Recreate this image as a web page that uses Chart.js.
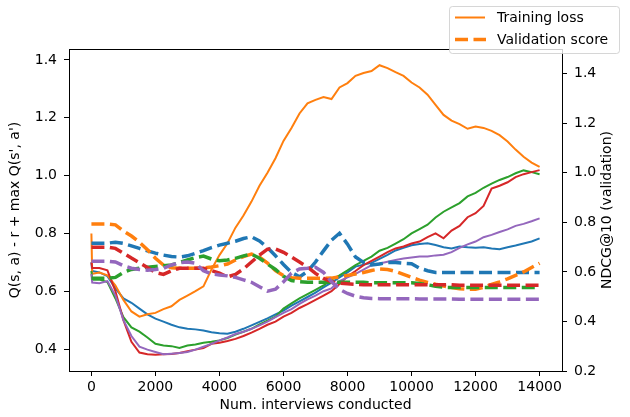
<!DOCTYPE html>
<html>
<head>
<meta charset="utf-8">
<script src="https://cdn.jsdelivr.net/npm/chart.js@4.4.1/dist/chart.umd.min.js"></script>
<style>
  html, body { margin: 0; padding: 0; background: #fff; }
  #wrap { width: 630px; height: 417px; }
</style>
</head>
<body>
<div id="wrap"><canvas id="lossChart" width="630" height="417"></canvas></div>
<script>
// interviews conducted (x) shared by every run
const interviews = [0, 25, 250, 500, 750, 1000, 1250, 1500, 1750, 2000, 2250, 2500, 2750, 3000,
  3250, 3500, 3750, 4000, 4250, 4500, 4750, 5000, 5250, 5500, 5750, 6000, 6250, 6500, 6750,
  7000, 7250, 7500, 7750, 8000, 8250, 8500, 8750, 9000, 9250, 9500, 9750, 10000, 10250, 10500,
  10750, 11000, 11250, 11500, 11750, 12000, 12250, 12500, 12750, 13000, 13250, 13500, 13750, 14000];

// training loss per run (left axis)
const lossBlue = [0.70, 0.67, 0.665, 0.652, 0.61, 0.575, 0.56, 0.54, 0.52, 0.505, 0.495, 0.484, 0.475,
  0.47, 0.468, 0.464, 0.458, 0.455, 0.453, 0.46, 0.47, 0.482, 0.494, 0.506, 0.52, 0.533, 0.55, 0.565,
  0.58, 0.595, 0.613, 0.63, 0.648, 0.665, 0.685, 0.692, 0.698, 0.712, 0.726, 0.741, 0.75, 0.759, 0.763,
  0.766, 0.76, 0.752, 0.748, 0.755, 0.752, 0.75, 0.752, 0.748, 0.745, 0.752, 0.758, 0.765, 0.772, 0.783];
const lossOrange = [0.80, 0.66, 0.665, 0.655, 0.62, 0.57, 0.53, 0.512, 0.52, 0.525, 0.538, 0.548, 0.57,
  0.585, 0.60, 0.617, 0.675, 0.725, 0.766, 0.82, 0.862, 0.91, 0.965, 1.01, 1.06, 1.12, 1.165, 1.215,
  1.25, 1.262, 1.272, 1.265, 1.305, 1.32, 1.345, 1.355, 1.362, 1.382, 1.372, 1.358, 1.345, 1.322, 1.305,
  1.28, 1.245, 1.21, 1.19, 1.178, 1.162, 1.17, 1.165, 1.155, 1.14, 1.118, 1.09, 1.065, 1.045, 1.03];
const lossGreen = [0.67, 0.64, 0.64, 0.632, 0.575, 0.51, 0.475, 0.46, 0.44, 0.418, 0.412, 0.41, 0.404,
  0.412, 0.416, 0.422, 0.425, 0.43, 0.438, 0.45, 0.46, 0.47, 0.485, 0.498, 0.512, 0.54, 0.558, 0.575,
  0.59, 0.605, 0.62, 0.64, 0.655, 0.672, 0.69, 0.705, 0.72, 0.74, 0.75, 0.765, 0.78, 0.80, 0.815, 0.83,
  0.855, 0.875, 0.89, 0.905, 0.928, 0.94, 0.958, 0.972, 0.985, 0.995, 1.008, 1.018, 1.012, 1.005];
const lossRed = [0.70, 0.68, 0.68, 0.672, 0.60, 0.50, 0.425, 0.388, 0.382, 0.38, 0.382, 0.383, 0.386,
  0.392, 0.398, 0.403, 0.418, 0.422, 0.428, 0.435, 0.445, 0.457, 0.47, 0.484, 0.495, 0.512, 0.525, 0.542,
  0.555, 0.57, 0.585, 0.60, 0.625, 0.652, 0.67, 0.69, 0.705, 0.72, 0.735, 0.748, 0.755, 0.765, 0.772,
  0.787, 0.80, 0.783, 0.81, 0.826, 0.856, 0.87, 0.895, 0.955, 0.965, 0.977, 0.995, 1.005, 1.012, 1.019];
const lossPurple = [0.66, 0.63, 0.628, 0.635, 0.585, 0.50, 0.445, 0.408, 0.398, 0.39, 0.382, 0.384, 0.386,
  0.39, 0.398, 0.408, 0.418, 0.43, 0.44, 0.452, 0.46, 0.47, 0.482, 0.495, 0.51, 0.525, 0.538, 0.556,
  0.572, 0.585, 0.60, 0.61, 0.635, 0.648, 0.66, 0.675, 0.69, 0.696, 0.702, 0.708, 0.713, 0.717, 0.72,
  0.72, 0.724, 0.726, 0.735, 0.75, 0.762, 0.772, 0.787, 0.795, 0.805, 0.814, 0.826, 0.833, 0.842, 0.852];

// validation NDCG@10 per run (right axis)
const ndcgBlue = [0.716, 0.716, 0.716, 0.716, 0.72, 0.715, 0.705, 0.695, 0.685, 0.676, 0.668, 0.662, 0.66,
  0.665, 0.675, 0.686, 0.698, 0.708, 0.716, 0.724, 0.735, 0.742, 0.725, 0.698, 0.665, 0.63, 0.598, 0.58,
  0.602, 0.64, 0.685, 0.728, 0.756, 0.712, 0.66, 0.638, 0.628, 0.632, 0.638, 0.638, 0.635, 0.633, 0.615,
  0.605, 0.598, 0.598, 0.598, 0.598, 0.598, 0.598, 0.598, 0.598, 0.598, 0.598, 0.598, 0.598, 0.598, 0.598];
const ndcgOrange = [0.793, 0.793, 0.793, 0.793, 0.79, 0.765, 0.745, 0.72, 0.69, 0.655, 0.628, 0.617, 0.615,
  0.615, 0.615, 0.616, 0.62, 0.625, 0.632, 0.648, 0.662, 0.672, 0.66, 0.636, 0.605, 0.585, 0.577, 0.574,
  0.574, 0.574, 0.574, 0.575, 0.58, 0.586, 0.592, 0.598, 0.606, 0.612, 0.61, 0.602, 0.59, 0.578, 0.567,
  0.558, 0.55, 0.543, 0.537, 0.532, 0.53, 0.53, 0.538, 0.55, 0.56, 0.572, 0.586, 0.60, 0.618, 0.635];
const ndcgGreen = [0.574, 0.574, 0.574, 0.574, 0.578, 0.598, 0.61, 0.615, 0.619, 0.622, 0.625, 0.628, 0.638,
  0.648, 0.658, 0.664, 0.652, 0.645, 0.648, 0.655, 0.665, 0.672, 0.655, 0.632, 0.61, 0.582, 0.565, 0.56,
  0.558, 0.558, 0.558, 0.558, 0.558, 0.558, 0.558, 0.558, 0.556, 0.556, 0.556, 0.556, 0.556, 0.556, 0.553,
  0.548, 0.542, 0.538, 0.537, 0.537, 0.537, 0.537, 0.537, 0.537, 0.537, 0.537, 0.537, 0.537, 0.537, 0.537];
const ndcgRed = [0.70, 0.70, 0.70, 0.70, 0.695, 0.676, 0.656, 0.637, 0.618, 0.598, 0.59, 0.605, 0.615,
  0.615, 0.615, 0.615, 0.605, 0.595, 0.58, 0.59, 0.612, 0.64, 0.668, 0.692, 0.693, 0.679, 0.66, 0.64,
  0.62, 0.594, 0.574, 0.56, 0.555, 0.552, 0.55, 0.548, 0.548, 0.548, 0.548, 0.548, 0.548, 0.548, 0.548,
  0.548, 0.548, 0.548, 0.548, 0.546, 0.546, 0.546, 0.546, 0.546, 0.546, 0.546, 0.546, 0.546, 0.546, 0.546];
const ndcgPurple = [0.643, 0.643, 0.643, 0.643, 0.64, 0.625, 0.615, 0.61, 0.607, 0.61, 0.615, 0.628, 0.638,
  0.64, 0.635, 0.605, 0.592, 0.588, 0.584, 0.578, 0.568, 0.558, 0.54, 0.522, 0.53, 0.56, 0.595, 0.612,
  0.615, 0.619, 0.598, 0.56, 0.53, 0.513, 0.502, 0.496, 0.493, 0.492, 0.492, 0.492, 0.492, 0.492, 0.491,
  0.491, 0.491, 0.491, 0.491, 0.49, 0.49, 0.49, 0.49, 0.49, 0.49, 0.49, 0.49, 0.49, 0.49, 0.49];

const xTicks = [0, 2000, 4000, 6000, 8000, 10000, 12000, 14000];
const lossTicks = [0.4, 0.6, 0.8, 1.0, 1.2, 1.4];
const ndcgTicks = [0.2, 0.4, 0.6, 0.8, 1.0, 1.2, 1.4];

const runColors = ['#1f77b4', '#ff7f0e', '#2ca02c', '#d62728', '#9467bd'];
const lossRuns = [lossBlue, lossOrange, lossGreen, lossRed, lossPurple];
const ndcgRuns = [ndcgBlue, ndcgOrange, ndcgGreen, ndcgRed, ndcgPurple];

const FONT = '"DejaVu Sans", sans-serif';
const DASH = [13, 5.5];

const toPoints = ys => interviews.map((x, i) => ({ x, y: ys[i] }));

// later runs on top, validation axis drawn over the loss axis
const datasets = [];
lossRuns.forEach((ys, i) => datasets.push({
  label: 'Training loss',
  data: toPoints(ys),
  yAxisID: 'yLoss',
  borderColor: runColors[i],
  borderWidth: 2,
  pointRadius: 0,
  order: 10 - i
}));
ndcgRuns.forEach((ys, i) => datasets.push({
  label: 'Validation score',
  data: toPoints(ys),
  yAxisID: 'yNdcg',
  borderColor: runColors[i],
  borderWidth: 3.5,
  borderDash: DASH,
  pointRadius: 0,
  order: 5 - i
}));

const tickFont = { family: FONT, size: 14 };
const axisGrid = { drawOnChartArea: false, tickLength: 5, color: '#000', tickWidth: 1 };
const axisBorder = { color: '#000', width: 1 };

const frameAndLabels = {
  id: 'frameAndLabels',
  afterDraw(chart) {
    const { ctx, chartArea: a } = chart;
    ctx.save();

    // top spine
    ctx.strokeStyle = '#000';
    ctx.lineWidth = 1;
    ctx.beginPath();
    ctx.moveTo(a.left, a.top + 0.5);
    ctx.lineTo(a.right, a.top + 0.5);
    ctx.stroke();

    // axis titles
    ctx.fillStyle = '#000';
    ctx.font = '14px ' + FONT;
    ctx.textAlign = 'center';
    ctx.textBaseline = 'middle';
    const midY = (a.top + a.bottom) / 2;
    ctx.fillText('Num. interviews conducted', (a.left + a.right) / 2, 405);

    ctx.save();
    ctx.translate(15, midY);
    ctx.rotate(-Math.PI / 2);
    ctx.fillText("Q(s, a) - r + max Q(s', a')", 0, 0);
    ctx.restore();

    ctx.save();
    ctx.translate(607, midY);
    ctx.rotate(-Math.PI / 2);
    ctx.fillText('NDCG@10 (validation)', 0, 0);
    ctx.restore();

    // legend box
    ctx.beginPath();
    ctx.roundRect(449.5, 6.5, 170, 47, 3);
    ctx.fillStyle = 'rgba(255,255,255,0.8)';
    ctx.fill();
    ctx.strokeStyle = 'rgba(204,204,204,0.8)';
    ctx.lineWidth = 1;
    ctx.stroke();

    const legendColor = runColors[1];
    ctx.strokeStyle = legendColor;
    ctx.lineWidth = 2;
    ctx.beginPath();
    ctx.moveTo(455, 17.5);
    ctx.lineTo(485, 17.5);
    ctx.stroke();

    ctx.lineWidth = 3.5;
    ctx.setLineDash(DASH);
    ctx.beginPath();
    ctx.moveTo(455, 39.5);
    ctx.lineTo(486, 39.5);
    ctx.stroke();
    ctx.setLineDash([]);

    ctx.fillStyle = '#000';
    ctx.textAlign = 'left';
    ctx.fillText('Training loss', 497, 18);
    ctx.fillText('Validation score', 497, 40);

    ctx.restore();
  }
};

new Chart(document.getElementById('lossChart'), {
  type: 'line',
  data: { datasets },
  options: {
    responsive: false,
    animation: false,
    layout: { padding: { top: 49, left: 0, right: 0, bottom: 0 } },
    plugins: { legend: { display: false }, tooltip: { enabled: false } },
    elements: { line: { tension: 0 } },
    scales: {
      x: {
        type: 'linear',
        min: -700,
        max: 14700,
        afterBuildTicks: s => { s.ticks = xTicks.map(v => ({ value: v })); },
        afterFit: s => { s.height = 46; },
        grid: axisGrid,
        border: axisBorder,
        ticks: { color: '#000', font: tickFont, padding: 3, maxRotation: 0, autoSkip: false,
                 callback: v => String(v) }
      },
      yLoss: {
        type: 'linear',
        position: 'left',
        min: 0.324,
        max: 1.438,
        afterBuildTicks: s => { s.ticks = lossTicks.map(v => ({ value: v })); },
        afterFit: s => { s.width = 69; },
        grid: axisGrid,
        border: axisBorder,
        ticks: { color: '#000', font: tickFont, padding: 7, callback: v => v.toFixed(1) }
      },
      yNdcg: {
        type: 'linear',
        position: 'right',
        min: 0.2,
        max: 1.5,
        afterBuildTicks: s => { s.ticks = ndcgTicks.map(v => ({ value: v })); },
        afterFit: s => { s.width = 68; },
        grid: axisGrid,
        border: axisBorder,
        ticks: { color: '#000', font: tickFont, padding: 7, callback: v => v.toFixed(1) }
      }
    }
  },
  plugins: [frameAndLabels]
});
</script>
</body>
</html>
